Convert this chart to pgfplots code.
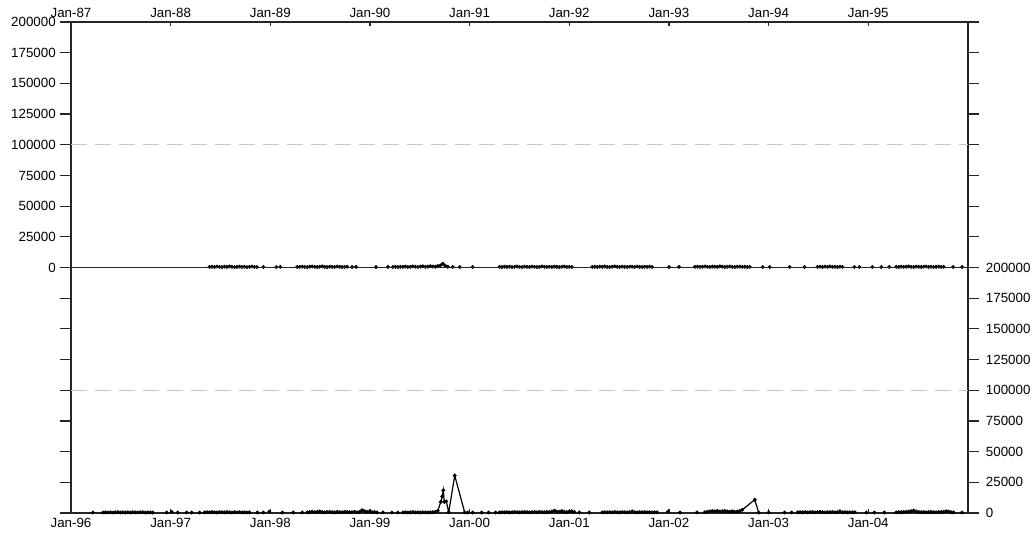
\documentclass[border=0pt]{standalone}
\usepackage{fontspec}
\setmainfont{Liberation Sans}
\usepackage{pgfplots}
\pgfplotsset{compat=1.18}
\begin{document}
\begin{tikzpicture}[x=1pt,y=1pt]
\useasboundingbox (-53.25,-15) rectangle (722.25,384.75);
\pgfplotsset{
  panel/.style={
    scale only axis, width=672.75pt, height=184.125pt,
    ymin=0, ymax=200000, ytick={0,25000,...,200000},
    scaled y ticks=false,
    /pgf/number format/fixed,
    /pgf/number format/precision=0,
    /pgf/number format/assume math mode=true,
    /pgf/number format/1000 sep={},
    ticklabel style={font=\fontsize{10}{12}\selectfont, text=black},
    axis line style={black!85, line width=1.2pt},
    tick style={black!85, line width=0.9pt},
    ytick align=outside, ytick pos=both,
    major tick length=8pt,
    xtick align=inside,
    xtick style={/pgfplots/major tick length=3pt},
    unbounded coords=jump,
  },
  data/.style={black, line width=0.9pt, mark=*, mark size=1.25pt, mark options={fill=black, draw=black, line width=0.4pt}},
  refline/.style={black!22, line width=1.1pt, dash pattern=on 12pt off 6pt, mark=none},
}
% ---------------- top panel 1987-1995
\begin{axis}[panel, at={(0pt,184.125pt)}, anchor=south west,
  xmin=1987, xmax=1996, xtick={1987,...,1995},
  xticklabels={Jan-87,Jan-88,Jan-89,Jan-90,Jan-91,Jan-92,Jan-93,Jan-94,Jan-95},
  xtick pos=right, xticklabel pos=right, yticklabel pos=left]
\addplot[refline] coordinates {(1987,100000)(1996,100000)};
\addplot[data] coordinates {
(1988.390,420)(1988.415,610)(1988.440,380)(1988.465,750)(1988.490,520)(1988.515,300)(1988.540,680)(1988.565,450)(1988.590,900)(1988.615,560)(1988.640,330)(1988.665,470)(1988.690,720)(1988.715,390)(1988.740,610)(1988.765,280)(1988.790,540)(1988.815,800)(1988.840,460)(1988.865,350)
(1988.90,nan)(1988.93,400)(1989.00,nan)(1989.06,300)(1989.08,nan)(1989.10,500)(1989.2,nan)
(1989.270,380)(1989.295,560)(1989.320,710)(1989.345,430)(1989.370,290)(1989.395,650)(1989.420,820)(1989.445,510)(1989.470,370)(1989.495,600)(1989.520,940)(1989.545,480)(1989.570,320)(1989.595,690)(1989.620,530)(1989.645,410)(1989.670,770)(1989.695,600)(1989.720,350)(1989.745,480)(1989.770,620)
(1989.80,nan)(1989.82,350)(1989.84,nan)(1989.86,420)(1989.95,nan)(1990.06,300)(1990.12,nan)(1990.18,450)(1990.20,nan)
(1990.230,400)(1990.255,520)(1990.280,330)(1990.305,610)(1990.330,480)(1990.355,750)(1990.380,390)(1990.405,560)(1990.430,880)(1990.455,640)(1990.480,420)(1990.505,710)(1990.530,950)(1990.555,530)(1990.580,680)(1990.605,1100)(1990.630,760)(1990.655,590)(1990.680,1200)(1990.705,1600)(1990.730,3100)(1990.755,1300)(1990.780,600)
(1990.80,nan)(1990.83,450)(1990.86,nan)(1990.90,380)(1990.95,nan)(1991.03,420)(1991.15,nan)
(1991.300,520)(1991.325,380)(1991.350,640)(1991.375,450)(1991.400,710)(1991.425,330)(1991.450,590)(1991.475,820)(1991.500,470)(1991.525,360)(1991.550,680)(1991.575,540)(1991.600,410)(1991.625,760)(1991.650,600)(1991.675,350)(1991.700,490)(1991.725,870)(1991.750,560)(1991.775,430)(1991.800,650)(1991.825,380)(1991.850,720)(1991.875,510)(1991.900,340)(1991.925,600)(1991.950,780)(1991.975,450)(1992.000,530)(1992.025,400)
(1992.10,nan)
(1992.230,450)(1992.255,620)(1992.280,380)(1992.305,710)(1992.330,540)(1992.355,830)(1992.380,470)(1992.405,360)(1992.430,650)(1992.455,900)(1992.480,580)(1992.505,420)(1992.530,740)(1992.555,510)(1992.580,390)(1992.605,680)(1992.630,620)(1992.655,450)(1992.680,800)(1992.705,530)(1992.730,370)(1992.755,610)(1992.780,490)(1992.805,720)(1992.830,400)
(1992.90,nan)(1993.00,380)(1993.05,nan)(1993.10,450)(1993.18,nan)
(1993.260,520)(1993.285,700)(1993.310,430)(1993.335,610)(1993.360,880)(1993.385,560)(1993.410,390)(1993.435,740)(1993.460,620)(1993.485,470)(1993.510,950)(1993.535,680)(1993.560,420)(1993.585,580)(1993.610,810)(1993.635,500)(1993.660,370)(1993.685,640)(1993.710,720)(1993.735,460)(1993.760,590)(1993.785,380)(1993.810,520)
(1993.85,nan)(1993.94,400)(1993.97,nan)(1994.01,350)(1994.10,nan)(1994.21,420)(1994.28,nan)(1994.36,380)(1994.42,nan)
(1994.490,480)(1994.515,650)(1994.540,390)(1994.565,720)(1994.590,560)(1994.615,840)(1994.640,470)(1994.665,610)(1994.690,380)(1994.715,690)(1994.740,520)
(1994.80,nan)(1994.86,400)(1994.885,nan)(1994.91,350)(1994.98,nan)(1995.04,420)(1995.09,nan)(1995.13,380)(1995.17,nan)(1995.21,450)(1995.245,nan)
(1995.280,560)(1995.305,420)(1995.330,700)(1995.355,480)(1995.380,630)(1995.405,850)(1995.430,510)(1995.455,390)(1995.480,760)(1995.505,580)(1995.530,440)(1995.555,690)(1995.580,820)(1995.605,470)(1995.630,600)(1995.655,380)(1995.680,540)(1995.705,710)(1995.730,450)(1995.755,500)
(1995.80,nan)(1995.85,400)(1995.90,nan)(1995.94,380)
};
\end{axis}
% ---------------- bottom panel 1996-2004
\begin{axis}[panel, at={(0pt,0pt)}, anchor=south west,
  xmin=1996, xmax=2005, xtick={1996,...,2004},
  xticklabels={Jan-96,Jan-97,Jan-98,Jan-99,Jan-00,Jan-01,Jan-02,Jan-03,Jan-04},
  xtick pos=left, xticklabel pos=left, yticklabel pos=right,
  yticklabel style={xshift=2pt}]
\addplot[refline] coordinates {(1996,100000)(2005,100000)};
\addplot[data] coordinates {
(1996.22,400)(1996.27,nan)
(1996.320,380)(1996.345,520)(1996.370,450)(1996.395,640)(1996.420,360)(1996.445,590)(1996.470,710)(1996.495,430)(1996.520,550)(1996.545,480)(1996.570,620)(1996.595,390)(1996.620,700)(1996.645,510)(1996.670,440)(1996.695,580)(1996.720,650)(1996.745,370)(1996.770,530)(1996.795,460)(1996.820,400)
(1996.90,nan)(1996.96,420)(1996.985,nan)(1997.01,900)(1997.04,nan)(1997.07,380)(1997.12,nan)(1997.16,450)(1997.185,nan)(1997.21,400)(1997.25,nan)(1997.29,380)(1997.315,nan)
(1997.340,450)(1997.365,620)(1997.390,500)(1997.415,780)(1997.440,560)(1997.465,430)(1997.490,700)(1997.515,620)(1997.540,480)(1997.565,850)(1997.590,590)(1997.615,410)(1997.640,660)(1997.665,530)(1997.690,720)(1997.715,460)(1997.740,580)(1997.765,390)(1997.790,510)
(1997.83,nan)(1997.87,400)(1997.90,nan)(1997.93,450)(1997.96,nan)(1997.99,1100)(1998.05,nan)(1998.12,380)(1998.18,nan)(1998.23,420)(1998.28,nan)(1998.32,450)(1998.345,nan)
(1998.370,520)(1998.395,780)(1998.420,1100)(1998.445,640)(1998.470,900)(1998.495,1300)(1998.520,720)(1998.545,560)(1998.570,850)(1998.595,1000)(1998.620,680)(1998.645,540)(1998.670,920)(1998.695,760)(1998.720,600)(1998.745,1050)(1998.770,830)(1998.795,640)(1998.820,700)(1998.845,950)(1998.870,580)(1998.895,820)(1998.920,2300)(1998.945,1500)(1998.970,900)(1998.995,1100)(1999.020,700)(1999.045,800)(1999.070,560)
(1999.10,nan)(1999.13,500)(1999.16,nan)(1999.22,420)(1999.25,nan)(1999.28,380)(1999.305,nan)
(1999.330,450)(1999.355,600)(1999.380,380)(1999.405,520)(1999.430,700)(1999.455,480)(1999.480,560)(1999.505,410)(1999.530,630)(1999.555,500)(1999.580,440)(1999.605,580)(1999.630,620)(1999.655,900)
(1999.680,1800)(1999.710,9000)(1999.725,13500)(1999.735,18500)(1999.745,9000)(1999.765,9500)(1999.790,600)(1999.850,30500)(1999.950,500)
(1999.965,nan)(1999.98,420)(2000.00,nan)(2000.03,380)(2000.08,nan)(2000.12,400)(2000.16,nan)(2000.19,450)(2000.225,nan)(2000.26,380)(2000.28,nan)
(2000.300,480)(2000.325,620)(2000.350,550)(2000.375,700)(2000.400,460)(2000.425,590)(2000.450,830)(2000.475,640)(2000.500,520)(2000.525,710)(2000.550,900)(2000.575,680)(2000.600,560)(2000.625,740)(2000.650,820)(2000.675,600)(2000.700,950)(2000.725,710)(2000.750,640)(2000.775,880)(2000.800,760)(2000.825,1300)(2000.850,1900)(2000.875,1200)(2000.900,1000)(2000.925,1600)(2000.950,900)(2000.975,750)(2001.000,1200)(2001.025,1500)(2001.050,800)
(2001.08,nan)(2001.10,450)(2001.15,nan)(2001.20,420)(2001.30,nan)
(2001.330,480)(2001.355,650)(2001.380,560)(2001.405,720)(2001.430,530)(2001.455,880)(2001.480,610)(2001.505,470)(2001.530,790)(2001.555,650)(2001.580,540)(2001.605,700)(2001.630,1300)(2001.655,620)(2001.680,480)(2001.705,750)(2001.730,590)(2001.755,830)(2001.780,520)(2001.805,680)(2001.830,460)(2001.855,600)(2001.880,550)
(2001.92,nan)(2001.99,1200)(2002.05,nan)(2002.11,400)(2002.20,nan)(2002.28,450)(2002.32,nan)
(2002.360,600)(2002.385,900)(2002.410,1300)(2002.435,1600)(2002.460,1400)(2002.485,1800)(2002.510,1200)(2002.535,1500)(2002.560,1700)(2002.585,1300)(2002.610,1100)(2002.635,1400)(2002.660,900)(2002.685,1200)(2002.710,1600)(2002.735,2600)
(2002.860,10800)(2002.900,400)
(2002.95,nan)(2003.00,500)(2003.10,nan)(2003.16,420)(2003.20,nan)(2003.23,450)(2003.26,nan)
(2003.290,520)(2003.315,680)(2003.340,590)(2003.365,760)(2003.390,480)(2003.415,640)(2003.440,830)(2003.465,560)(2003.490,710)(2003.515,940)(2003.540,600)(2003.565,470)(2003.590,750)(2003.615,620)(2003.640,880)(2003.665,540)(2003.690,690)(2003.715,1400)(2003.740,580)(2003.765,720)(2003.790,490)(2003.815,650)(2003.840,560)(2003.865,610)
(2003.92,nan)(2003.98,400)(2004.02,nan)(2004.06,420)(2004.11,nan)(2004.16,450)(2004.22,nan)
(2004.280,540)(2004.305,700)(2004.330,620)(2004.355,810)(2004.380,950)(2004.405,1200)(2004.430,1500)(2004.455,2000)(2004.480,1300)(2004.505,880)(2004.530,700)(2004.555,820)(2004.580,640)(2004.605,750)(2004.630,900)(2004.655,680)(2004.680,560)(2004.705,730)(2004.730,850)(2004.755,1000)(2004.780,1400)(2004.805,1200)(2004.830,650)(2004.855,520)
(2004.90,nan)(2004.94,450)
};
\end{axis}
\end{tikzpicture}
\end{document}
